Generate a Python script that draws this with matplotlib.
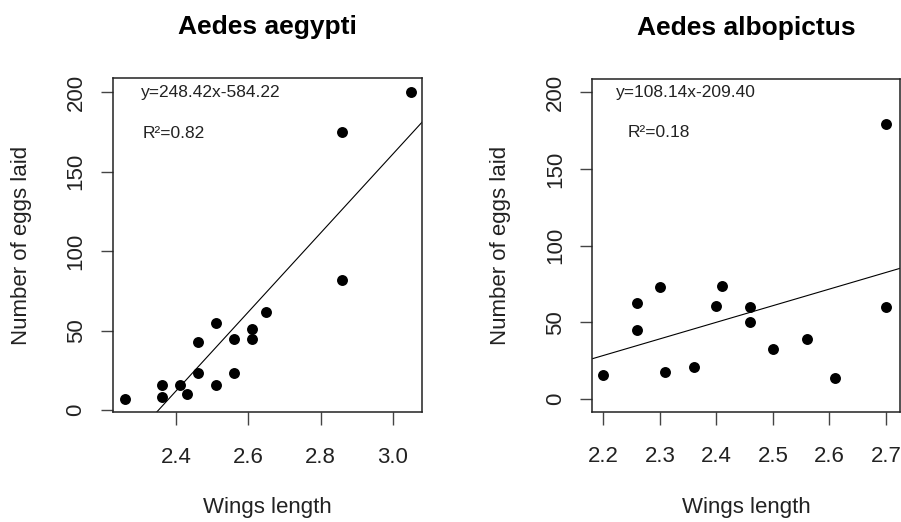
import numpy as np
import matplotlib
matplotlib.use("Agg")
import matplotlib.pyplot as plt

plt.rcParams['font.family'] = ['Liberation Sans', 'DejaVu Sans']

# Aedes aegypti : longueur des ailes et nombre d'oeufs pondus
wing_aeg = [2.26, 2.36, 2.36, 2.41, 2.43, 2.46, 2.46, 2.51, 2.51,
            2.56, 2.56, 2.61, 2.61, 2.65, 2.86, 2.86, 3.05]
eggs_aeg = [7, 16, 8, 16, 10, 23, 43, 16, 55,
            45, 23, 51, 45, 62, 82, 175, 200]

# Aedes albopictus
wing_alb = [2.20, 2.26, 2.26, 2.30, 2.31, 2.36, 2.40, 2.41,
            2.46, 2.46, 2.50, 2.56, 2.61, 2.70, 2.70]
eggs_alb = [16, 63, 45, 73, 18, 21, 61, 74,
            60, 50, 33, 39, 14, 179, 60]

# coefficients de la droite de regression et R2
coef_aeg = (248.42, -584.22)
coef_alb = (108.14, -209.40)
r2_aeg = 0.82
r2_alb = 0.18

W, H = 901, 522
fig = plt.figure(figsize=(W / 100, H / 100), dpi=100)


def box(l, r, t, b):
    return [l / W, (H - b) / H, (r - l) / W, (b - t) / H]


panels = [
    dict(title="Aedes aegypti", x=wing_aeg, y=eggs_aeg, coef=coef_aeg, r2=r2_aeg,
         rect=box(113, 422, 78, 412), xlim=(2.2255, 3.081), ylim=(-1.26, 209.0),
         xticks=[2.4, 2.6, 2.8, 3.0], eq_x=2.497, r2_x=2.395),
    dict(title="Aedes albopictus", x=wing_alb, y=eggs_alb, coef=coef_alb, r2=r2_alb,
         rect=box(592.3, 900, 79, 411.7), xlim=(2.1805, 2.725), ylim=(-8.1, 208.6),
         xticks=[2.2, 2.3, 2.4, 2.5, 2.6, 2.7], eq_x=2.346, r2_x=2.298),
]

for p in panels:
    ax = fig.add_axes(p["rect"])
    ax.scatter(p["x"], p["y"], s=62, color="black", zorder=3, linewidths=0)

    # droite de regression sur toute la largeur (comme abline)
    a, b = p["coef"]
    xs = np.array(p["xlim"])
    ax.plot(xs, a * xs + b, color="black", lw=0.8)

    ax.set_xlim(p["xlim"])
    ax.set_ylim(p["ylim"])
    ax.set_xticks(p["xticks"])
    ax.set_xticklabels([f"{v:.1f}" for v in p["xticks"]])
    ax.set_yticks([0, 50, 100, 150, 200])

    for s in ax.spines.values():
        s.set_linewidth(1.1)
        s.set_color("#222222")

    ax.tick_params(axis="both", length=9, width=1.0, color="#444444",
                   labelsize=16, labelcolor="#222222")
    ax.tick_params(axis="x", pad=16)
    ax.tick_params(axis="y", pad=10)
    for lab in ax.get_yticklabels():
        lab.set_rotation(90)
        lab.set_va("center")

    ax.set_title(p["title"], fontsize=19, fontweight="bold", pad=32)
    ax.set_xlabel("Wings length", fontsize=16, color="#222222", va="center")
    ax.xaxis.set_label_coords(0.5, -0.287)
    ax.set_ylabel("Number of eggs laid", fontsize=16, color="#222222", va="center")
    ax.yaxis.set_label_coords(-0.297, 0.5)

    sign = "-" if b < 0 else "+"
    ax.text(p["eq_x"], 200, f"y={a:.2f}x{sign}{abs(b):.2f}", fontsize=12.5,
            ha="center", va="center", color="#222222")
    ax.text(p["r2_x"], 174, f"R²={p['r2']:.2f}", fontsize=12.5,
            ha="center", va="center", color="#222222")

fig.savefig("out.png", dpi=100)
